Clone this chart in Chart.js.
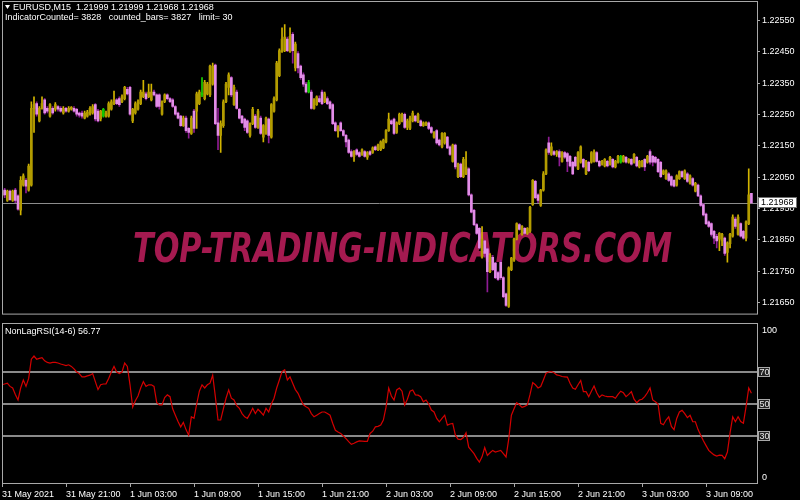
<!DOCTYPE html>
<html>
<head>
<meta charset="utf-8">
<script src="https://cdn.jsdelivr.net/npm/chart.js@4.4.1/dist/chart.umd.min.js"></script>
<style>
  html, body { margin: 0; padding: 0; background: #000; }
  #wrap { position: relative; width: 800px; height: 500px; background: #000; overflow: hidden; }
  canvas { position: absolute; left: 0; }
  #main { top: 0; }
  #rsi { top: 322px; }
</style>
</head>
<body>
<div id="wrap">
  <canvas id="main" width="800" height="322"></canvas>
  <canvas id="rsi" width="800" height="178"></canvas>
</div>
<script>
// EURUSD M15 candles, 31 May 15:00 .. 3 Jun 13:15
const opens = [
  1.21991, 1.22009, 1.21976, 1.22006, 1.21976, 1.22009, 1.21991, 1.21945, 1.22025, 1.22040,
  1.22009, 1.22025, 1.22270, 1.22285, 1.22230, 1.22270, 1.22297, 1.22270, 1.22245, 1.22270,
  1.22267, 1.22276, 1.22270, 1.22255, 1.22270, 1.22261, 1.22267, 1.22270, 1.22267, 1.22255,
  1.22255, 1.22239, 1.22245, 1.22251, 1.22255, 1.22282, 1.22261, 1.22236, 1.22245, 1.22245,
  1.22245, 1.22267, 1.22285, 1.22297, 1.22301, 1.22291, 1.22301, 1.22331, 1.22337, 1.22230,
  1.22255, 1.22267, 1.22285, 1.22307, 1.22316, 1.22307, 1.22297, 1.22322, 1.22313, 1.22313,
  1.22251, 1.22291, 1.22313, 1.22301, 1.22297, 1.22276, 1.22255, 1.22245, 1.22215, 1.22239,
  1.22206, 1.22190, 1.22261, 1.22261, 1.22285, 1.22313, 1.22301, 1.22316, 1.22313, 1.22347,
  1.22408, 1.22224, 1.22184, 1.22215, 1.22291, 1.22337, 1.22368, 1.22282, 1.22322, 1.22267,
  1.22245, 1.22236, 1.22230, 1.22184, 1.22221, 1.22245, 1.22209, 1.22239, 1.22178, 1.22190,
  1.22236, 1.22178, 1.22261, 1.22297, 1.22374, 1.22451, 1.22454, 1.22491, 1.22451, 1.22506,
  1.22399, 1.22445, 1.22405, 1.22377, 1.22347, 1.22322, 1.22322, 1.22270, 1.22282, 1.22301,
  1.22322, 1.22291, 1.22301, 1.22291, 1.22282, 1.22224, 1.22196, 1.22224, 1.22199, 1.22184,
  1.22169, 1.22132, 1.22117, 1.22138, 1.22129, 1.22123, 1.22132, 1.22114, 1.22132, 1.22129,
  1.22147, 1.22138, 1.22138, 1.22144, 1.22163, 1.22199, 1.22230, 1.22236, 1.22193, 1.22221,
  1.22230, 1.22251, 1.22209, 1.22206, 1.22230, 1.22245, 1.22227, 1.22230, 1.22215, 1.22218,
  1.22224, 1.22209, 1.22178, 1.22199, 1.22169, 1.22147, 1.22160, 1.22178, 1.22147, 1.22101,
  1.22153, 1.22052, 1.22092, 1.22052, 1.22061, 1.22077, 1.21994, 1.21945, 1.21899, 1.21887,
  1.21795, 1.21847, 1.21822, 1.21749, 1.21795, 1.21776, 1.21746, 1.21779, 1.21730, 1.21678,
  1.21638, 1.21755, 1.21786, 1.21853, 1.21899, 1.21868, 1.21887, 1.21871, 1.21878, 1.21963,
  1.22037, 1.21994, 1.21960, 1.22009, 1.22061, 1.22160, 1.22123, 1.22132, 1.22123, 1.22132,
  1.22101, 1.22129, 1.22126, 1.22117, 1.22098, 1.22114, 1.22077, 1.22098, 1.22107, 1.22061,
  1.22098, 1.22098, 1.22101, 1.22129, 1.22101, 1.22092, 1.22086, 1.22101, 1.22092, 1.22107,
  1.22083, 1.22098, 1.22098, 1.22101, 1.22114, 1.22098, 1.22107, 1.22098, 1.22114, 1.22083,
  1.22086, 1.22107, 1.22098, 1.22132, 1.22117, 1.22114, 1.22107, 1.22098, 1.22061, 1.22046,
  1.22061, 1.22052, 1.22040, 1.22025, 1.22046, 1.22068, 1.22046, 1.22061, 1.22031, 1.22046,
  1.22006, 1.22025, 1.21991, 1.21963, 1.21933, 1.21908, 1.21902, 1.21878, 1.21862, 1.21853,
  1.21847, 1.21856, 1.21810, 1.21838, 1.21862, 1.21917, 1.21868, 1.21902, 1.21878, 1.21856,
  1.21902, 1.21999
];
const highs = [
  1.22012, 1.22015, 1.22009, 1.22009, 1.22009, 1.22015, 1.21994, 1.22052, 1.22061, 1.22046,
  1.22092, 1.22291, 1.22307, 1.22291, 1.22276, 1.22307, 1.22301, 1.22276, 1.22285, 1.22276,
  1.22288, 1.22279, 1.22276, 1.22276, 1.22273, 1.22276, 1.22276, 1.22276, 1.22270, 1.22258,
  1.22261, 1.22261, 1.22264, 1.22276, 1.22282, 1.22285, 1.22267, 1.22264, 1.22270, 1.22261,
  1.22291, 1.22297, 1.22325, 1.22301, 1.22307, 1.22313, 1.22340, 1.22337, 1.22340, 1.22270,
  1.22291, 1.22297, 1.22328, 1.22359, 1.22322, 1.22347, 1.22347, 1.22328, 1.22316, 1.22316,
  1.22294, 1.22316, 1.22316, 1.22304, 1.22301, 1.22279, 1.22258, 1.22248, 1.22245, 1.22245,
  1.22209, 1.22245, 1.22267, 1.22322, 1.22328, 1.22368, 1.22359, 1.22353, 1.22408, 1.22414,
  1.22411, 1.22270, 1.22230, 1.22297, 1.22353, 1.22383, 1.22371, 1.22344, 1.22328, 1.22270,
  1.22248, 1.22239, 1.22233, 1.22224, 1.22273, 1.22251, 1.22267, 1.22245, 1.22218, 1.22242,
  1.22239, 1.22285, 1.22307, 1.22420, 1.22460, 1.22527, 1.22537, 1.22497, 1.22527, 1.22512,
  1.22481, 1.22451, 1.22408, 1.22383, 1.22353, 1.22359, 1.22328, 1.22301, 1.22310, 1.22310,
  1.22328, 1.22322, 1.22307, 1.22294, 1.22285, 1.22227, 1.22215, 1.22227, 1.22202, 1.22187,
  1.22172, 1.22138, 1.22135, 1.22141, 1.22132, 1.22141, 1.22135, 1.22132, 1.22135, 1.22147,
  1.22150, 1.22156, 1.22166, 1.22172, 1.22202, 1.22255, 1.22233, 1.22239, 1.22227, 1.22255,
  1.22255, 1.22255, 1.22236, 1.22245, 1.22261, 1.22248, 1.22255, 1.22233, 1.22227, 1.22227,
  1.22227, 1.22212, 1.22196, 1.22202, 1.22172, 1.22193, 1.22193, 1.22181, 1.22150, 1.22156,
  1.22156, 1.22095, 1.22095, 1.22114, 1.22132, 1.22080, 1.21997, 1.21948, 1.21902, 1.21890,
  1.21893, 1.21850, 1.21825, 1.21807, 1.21801, 1.21779, 1.21749, 1.21786, 1.21733, 1.21681,
  1.21764, 1.21795, 1.21856, 1.21905, 1.21902, 1.21896, 1.21890, 1.21890, 1.21957, 1.22043,
  1.22040, 1.21997, 1.22012, 1.22068, 1.22141, 1.22178, 1.22160, 1.22135, 1.22135, 1.22138,
  1.22132, 1.22132, 1.22129, 1.22120, 1.22101, 1.22117, 1.22132, 1.22150, 1.22110, 1.22104,
  1.22101, 1.22132, 1.22138, 1.22132, 1.22104, 1.22104, 1.22110, 1.22104, 1.22117, 1.22110,
  1.22104, 1.22120, 1.22120, 1.22120, 1.22117, 1.22110, 1.22110, 1.22126, 1.22117, 1.22104,
  1.22104, 1.22110, 1.22120, 1.22138, 1.22120, 1.22117, 1.22110, 1.22101, 1.22074, 1.22074,
  1.22065, 1.22055, 1.22043, 1.22058, 1.22071, 1.22071, 1.22074, 1.22065, 1.22058, 1.22049,
  1.22034, 1.22028, 1.21994, 1.21966, 1.21936, 1.21911, 1.21905, 1.21881, 1.21868, 1.21874,
  1.21871, 1.21859, 1.21844, 1.21871, 1.21930, 1.21923, 1.21930, 1.21905, 1.21881, 1.21911,
  1.22077, 1.21999
];
const lows = [
  1.21963, 1.21985, 1.21973, 1.21976, 1.21973, 1.21969, 1.21945, 1.21930, 1.22022, 1.22000,
  1.22006, 1.22022, 1.22193, 1.22245, 1.22227, 1.22267, 1.22251, 1.22255, 1.22242, 1.22251,
  1.22261, 1.22261, 1.22258, 1.22251, 1.22258, 1.22258, 1.22264, 1.22258, 1.22245, 1.22242,
  1.22239, 1.22236, 1.22242, 1.22248, 1.22251, 1.22230, 1.22227, 1.22230, 1.22242, 1.22242,
  1.22242, 1.22264, 1.22282, 1.22282, 1.22276, 1.22288, 1.22297, 1.22313, 1.22248, 1.22224,
  1.22251, 1.22264, 1.22282, 1.22304, 1.22297, 1.22304, 1.22294, 1.22310, 1.22273, 1.22267,
  1.22248, 1.22288, 1.22297, 1.22288, 1.22273, 1.22248, 1.22236, 1.22212, 1.22212, 1.22193,
  1.22175, 1.22187, 1.22193, 1.22206, 1.22282, 1.22307, 1.22297, 1.22313, 1.22307, 1.22344,
  1.22218, 1.22138, 1.22129, 1.22209, 1.22288, 1.22313, 1.22307, 1.22279, 1.22267, 1.22236,
  1.22221, 1.22199, 1.22190, 1.22178, 1.22218, 1.22206, 1.22206, 1.22187, 1.22163, 1.22187,
  1.22160, 1.22175, 1.22258, 1.22294, 1.22371, 1.22448, 1.22451, 1.22451, 1.22448, 1.22414,
  1.22389, 1.22383, 1.22362, 1.22340, 1.22319, 1.22319, 1.22267, 1.22267, 1.22279, 1.22288,
  1.22282, 1.22288, 1.22282, 1.22267, 1.22218, 1.22196, 1.22178, 1.22196, 1.22181, 1.22147,
  1.22126, 1.22114, 1.22101, 1.22120, 1.22114, 1.22120, 1.22114, 1.22107, 1.22120, 1.22126,
  1.22135, 1.22135, 1.22135, 1.22141, 1.22160, 1.22196, 1.22218, 1.22187, 1.22190, 1.22218,
  1.22227, 1.22206, 1.22202, 1.22202, 1.22227, 1.22227, 1.22224, 1.22212, 1.22212, 1.22215,
  1.22202, 1.22190, 1.22175, 1.22156, 1.22150, 1.22144, 1.22156, 1.22141, 1.22120, 1.22098,
  1.22077, 1.22049, 1.22049, 1.22049, 1.22058, 1.21991, 1.21936, 1.21896, 1.21868, 1.21822,
  1.21792, 1.21795, 1.21684, 1.21746, 1.21752, 1.21727, 1.21721, 1.21724, 1.21666, 1.21638,
  1.21635, 1.21752, 1.21782, 1.21850, 1.21881, 1.21865, 1.21868, 1.21868, 1.21874, 1.21960,
  1.21982, 1.21969, 1.21957, 1.22006, 1.22058, 1.22123, 1.22120, 1.22120, 1.22117, 1.22086,
  1.22098, 1.22110, 1.22068, 1.22083, 1.22058, 1.22083, 1.22074, 1.22095, 1.22080, 1.22058,
  1.22068, 1.22095, 1.22098, 1.22098, 1.22083, 1.22089, 1.22083, 1.22083, 1.22089, 1.22080,
  1.22080, 1.22095, 1.22095, 1.22098, 1.22095, 1.22095, 1.22089, 1.22095, 1.22083, 1.22080,
  1.22083, 1.22071, 1.22095, 1.22092, 1.22086, 1.22095, 1.22065, 1.22049, 1.22058, 1.22043,
  1.22037, 1.22022, 1.22019, 1.22022, 1.22043, 1.22049, 1.22043, 1.22034, 1.22028, 1.22022,
  1.22003, 1.21988, 1.21957, 1.21927, 1.21899, 1.21890, 1.21862, 1.21838, 1.21825, 1.21816,
  1.21832, 1.21801, 1.21779, 1.21825, 1.21859, 1.21887, 1.21865, 1.21859, 1.21853, 1.21847,
  1.21899, 1.21968
];
const closes = [
  1.22006, 1.21994, 1.22006, 1.21979, 1.22006, 1.21976, 1.21948, 1.22040, 1.22055, 1.22022,
  1.22086, 1.22270, 1.22282, 1.22251, 1.22270, 1.22285, 1.22255, 1.22261, 1.22282, 1.22255,
  1.22282, 1.22267, 1.22261, 1.22270, 1.22261, 1.22270, 1.22273, 1.22261, 1.22251, 1.22248,
  1.22245, 1.22255, 1.22258, 1.22270, 1.22276, 1.22236, 1.22230, 1.22261, 1.22267, 1.22255,
  1.22285, 1.22291, 1.22297, 1.22285, 1.22282, 1.22307, 1.22337, 1.22316, 1.22251, 1.22267,
  1.22285, 1.22291, 1.22322, 1.22322, 1.22301, 1.22322, 1.22322, 1.22313, 1.22276, 1.22276,
  1.22291, 1.22313, 1.22301, 1.22291, 1.22276, 1.22251, 1.22239, 1.22215, 1.22239, 1.22199,
  1.22193, 1.22239, 1.22206, 1.22316, 1.22322, 1.22319, 1.22353, 1.22347, 1.22405, 1.22405,
  1.22221, 1.22184, 1.22221, 1.22291, 1.22347, 1.22377, 1.22313, 1.22337, 1.22270, 1.22239,
  1.22224, 1.22209, 1.22193, 1.22221, 1.22267, 1.22209, 1.22261, 1.22190, 1.22215, 1.22239,
  1.22184, 1.22282, 1.22301, 1.22414, 1.22454, 1.22491, 1.22497, 1.22454, 1.22500, 1.22454,
  1.22475, 1.22399, 1.22368, 1.22347, 1.22322, 1.22353, 1.22270, 1.22297, 1.22307, 1.22291,
  1.22285, 1.22316, 1.22285, 1.22270, 1.22221, 1.22199, 1.22209, 1.22199, 1.22184, 1.22163,
  1.22129, 1.22117, 1.22132, 1.22123, 1.22117, 1.22138, 1.22117, 1.22129, 1.22123, 1.22144,
  1.22138, 1.22153, 1.22163, 1.22169, 1.22199, 1.22236, 1.22221, 1.22190, 1.22224, 1.22251,
  1.22251, 1.22209, 1.22230, 1.22239, 1.22255, 1.22230, 1.22251, 1.22215, 1.22224, 1.22224,
  1.22206, 1.22193, 1.22193, 1.22160, 1.22153, 1.22190, 1.22190, 1.22144, 1.22123, 1.22153,
  1.22083, 1.22092, 1.22052, 1.22107, 1.22083, 1.21994, 1.21939, 1.21899, 1.21871, 1.21825,
  1.21853, 1.21807, 1.21749, 1.21801, 1.21755, 1.21730, 1.21724, 1.21730, 1.21669, 1.21641,
  1.21761, 1.21792, 1.21853, 1.21902, 1.21884, 1.21893, 1.21871, 1.21887, 1.21954, 1.22040,
  1.21985, 1.21976, 1.22009, 1.22061, 1.22138, 1.22129, 1.22147, 1.22123, 1.22132, 1.22114,
  1.22129, 1.22114, 1.22101, 1.22086, 1.22061, 1.22086, 1.22129, 1.22147, 1.22083, 1.22101,
  1.22071, 1.22129, 1.22132, 1.22101, 1.22086, 1.22101, 1.22107, 1.22086, 1.22114, 1.22083,
  1.22101, 1.22117, 1.22117, 1.22117, 1.22098, 1.22107, 1.22092, 1.22123, 1.22086, 1.22101,
  1.22101, 1.22083, 1.22117, 1.22098, 1.22098, 1.22098, 1.22068, 1.22052, 1.22071, 1.22071,
  1.22040, 1.22025, 1.22022, 1.22055, 1.22068, 1.22052, 1.22071, 1.22037, 1.22055, 1.22025,
  1.22031, 1.21991, 1.21960, 1.21930, 1.21902, 1.21893, 1.21868, 1.21856, 1.21847, 1.21871,
  1.21868, 1.21807, 1.21841, 1.21868, 1.21923, 1.21893, 1.21923, 1.21862, 1.21856, 1.21908,
  1.21994, 1.21968
];
// bars that the terminal painted green
const greenBars = [38, 75, 115, 232];

// NonLagRSI(14-6), one value per bar
const rsiValues = [
  62, 62.5, 63, 61, 60, 56, 52.5, 60, 65, 61,
  66, 78, 80, 78, 78.5, 79, 77, 76, 75.6, 76,
  76, 75.6, 75, 74.5, 74, 74.5, 73.5, 72, 70, 69,
  67, 67, 67.6, 68, 69, 64, 59, 62, 62.5, 62.6,
  66, 70, 73.5, 70, 69, 70, 75.6, 73.5, 62, 48,
  52, 55, 60, 64, 61, 62, 62, 61, 51, 49.4,
  49.4, 54, 55.7, 54.6, 47, 43, 39, 35.7, 38.5, 34,
  30.5, 42, 41, 50, 58, 62, 60, 62, 63, 68,
  54.6, 40, 40, 47, 53.6, 58.8, 53.6, 52.5, 49, 47.3,
  44, 42, 41, 44, 47.3, 44, 46.7, 45, 43, 47.3,
  45, 50, 53.6, 60, 65, 70.3, 71.4, 65, 67, 63,
  59, 56.7, 53, 49.5, 48.3, 47.3, 44, 42, 43, 44,
  45, 45, 44, 43, 38, 33.6, 32.5, 31.6, 30, 28.4,
  26.5, 24.8, 25.5, 26.3, 26.9, 26.8, 26.7, 26.7, 31.6, 33,
  35.7, 36, 36.8, 40, 48, 60, 55, 52.5, 58.8, 60,
  58, 49.4, 53, 58, 58.8, 55.7, 55.5, 54.6, 51.4, 52.5,
  50, 46.2, 45, 41, 38.9, 41, 43, 36.8, 37.5, 37.9,
  30.5, 28, 27.8, 29, 32, 23, 21, 19, 16, 13.7,
  17, 22.8, 17.9, 19.5, 21, 20, 20.5, 21, 19, 16.9,
  28, 43, 47, 50.8, 49.5, 47.9, 48.5, 49.4, 56, 63.4,
  62, 60, 60.9, 65, 69.3, 70, 70.3, 69.5, 68.2, 67.8,
  67.2, 67, 66.8, 63, 60, 59.2, 62, 64.7, 57.7, 57.7,
  54.6, 58, 61.3, 57, 54.2, 55.7, 55, 54.6, 54.6, 54.6,
  53.6, 56, 58, 57, 54.6, 56, 57.7, 53, 50.8, 52.5,
  53, 54.6, 57, 60, 52.5, 51.4, 50, 37.9, 37, 40,
  42, 36, 34, 41, 45, 46, 44, 41.5, 43, 39,
  38.9, 34, 30.5, 27, 24, 21, 19.5, 18.2, 17.5, 18,
  17.9, 15.8, 20, 32, 42, 38.9, 42, 39, 38, 48.3,
  60, 56.77
];
const rsiLevels = [30, 50, 70];
const rsiAxisLabels = [0, 100];

const priceTicks = [1.21650, 1.21750, 1.21850, 1.21950, 1.22050, 1.22150, 1.22250, 1.22350, 1.22450, 1.22550];
const timeTickBars = [0, 24, 48, 72, 96, 120, 144, 168, 192, 216, 240, 264];
const timeTickLabels = ['31 May 2021', '31 May 21:00', '1 Jun 03:00', '1 Jun 09:00', '1 Jun 15:00', '1 Jun 21:00',
  '2 Jun 03:00', '2 Jun 09:00', '2 Jun 15:00', '2 Jun 21:00', '3 Jun 03:00', '3 Jun 09:00'];

const FONT = "'Liberation Sans', sans-serif";
const FSIZE = 9;
const FRAME = '#a8a8a8';
const last = closes.length - 1;
const barIdx = closes.map((_, i) => i);

const isBull = i => closes[i] >= opens[i];
const bodyColors = barIdx.map(i => greenBars.includes(i) ? '#14c800' : isBull(i) ? '#b39c00' : '#e38de8');
const wickColors = barIdx.map(i => greenBars.includes(i) ? '#1ad400' : isBull(i) ? '#d2b400' : '#8e1c94');

const mainDecor = {
  id: 'mainDecor',
  beforeDatasetsDraw(chart) {
    const { ctx, chartArea: a, scales: { y } } = chart;
    // watermark
    ctx.save();
    const wm = 'TOP-TRADING-INDICATORS.COM';
    ctx.font = "bold italic 41px 'DejaVu Sans'";
    const w = ctx.measureText(wm).width;
    ctx.translate(133, 262);
    ctx.scale(539 / w, 1);
    ctx.fillStyle = '#a51a50';
    ctx.textBaseline = 'alphabetic';
    ctx.fillText(wm, 0, 0);
    ctx.restore();
    // bid line
    const py = Math.round(y.getPixelForValue(closes[last])) + 0.5;
    ctx.save();
    ctx.strokeStyle = '#8c8c8c';
    ctx.lineWidth = 1;
    ctx.beginPath();
    ctx.moveTo(a.left, py);
    ctx.lineTo(a.right, py);
    ctx.stroke();
    ctx.restore();
  },
  afterDraw(chart) {
    const { ctx, chartArea: a, scales: { y } } = chart;
    ctx.save();
    ctx.strokeStyle = FRAME;
    ctx.lineWidth = 1;
    ctx.strokeRect(a.left + 0.5, 1.5, a.right - a.left, a.bottom - 2);
    // bid label
    const py = Math.round(y.getPixelForValue(closes[last]));
    ctx.fillStyle = '#ffffff';
    ctx.fillRect(758, py - 5, 38, 10);
    ctx.strokeStyle = '#707070';
    ctx.strokeRect(758.5, py - 5.5, 38, 10);
    ctx.fillStyle = '#000000';
    ctx.font = FSIZE + 'px ' + FONT;
    ctx.textBaseline = 'middle';
    ctx.fillText(closes[last].toFixed(5), 761, py);
    // header
    ctx.fillStyle = '#ffffff';
    ctx.beginPath();
    ctx.moveTo(5, 5); ctx.lineTo(10, 5); ctx.lineTo(7.5, 9); ctx.closePath();
    ctx.fill();
    ctx.fillText('EURUSD,M15  ' + [opens[last], highs[last], lows[last], closes[last]].map(v => v.toFixed(5)).join(' '), 13, 7.5);
    ctx.fillText('IndicatorCounted= 3828   counted_bars= 3827   limit= 30', 5, 17.5);
    ctx.restore();
  }
};

new Chart(document.getElementById('main'), {
  type: 'bar',
  data: {
    datasets: [
      {
        label: 'body',
        data: barIdx.map(i => ({ x: i, y: [opens[i], closes[i]] })),
        backgroundColor: bodyColors,
        barThickness: 2,
        minBarLength: 1,
        grouped: false,
        borderWidth: 0
      },
      {
        label: 'wick',
        data: barIdx.map(i => ({ x: i, y: [lows[i], highs[i]] })),
        backgroundColor: wickColors,
        barThickness: 1,
        grouped: false,
        borderWidth: 0
      }
    ]
  },
  options: {
    responsive: false,
    animation: false,
    events: [],
    layout: { padding: { left: 2, top: 2, right: 0, bottom: 1 } },
    plugins: { legend: { display: false }, tooltip: { enabled: false } },
    scales: {
      x: { type: 'linear', display: false, min: 0, max: 283.1, offset: false, grid: { offset: false } },
      y: {
        position: 'right',
        min: 1.21612,
        max: 1.22592,
        beginAtZero: false,
        afterFit: s => { s.width = 43; },
        afterBuildTicks: s => { s.ticks = priceTicks.map(v => ({ value: v })); },
        ticks: {
          color: '#ffffff',
          font: { family: FONT, size: FSIZE },
          padding: 2,
          callback: v => Number(v).toFixed(5)
        },
        grid: { drawOnChartArea: false, tickLength: 3, color: FRAME },
        border: { display: false }
      }
    }
  },
  plugins: [mainDecor]
});

const rsiDecor = {
  id: 'rsiDecor',
  beforeDatasetsDraw(chart) {
    const { ctx, chartArea: a, scales: { y } } = chart;
    ctx.save();
    ctx.strokeStyle = '#8a8a8a';
    ctx.lineWidth = 2;
    rsiLevels.forEach(v => {
      const py = Math.round(y.getPixelForValue(v));
      ctx.beginPath();
      ctx.moveTo(a.left, py);
      ctx.lineTo(a.right, py);
      ctx.stroke();
    });
    ctx.restore();
  },
  afterDraw(chart) {
    const { ctx, chartArea: a, scales: { y } } = chart;
    ctx.save();
    ctx.strokeStyle = FRAME;
    ctx.lineWidth = 1;
    ctx.strokeRect(a.left + 0.5, 1.5, a.right - a.left, a.bottom - 2);
    ctx.font = FSIZE + 'px ' + FONT;
    ctx.textBaseline = 'middle';
    // level labels
    rsiLevels.forEach(v => {
      const py = Math.round(y.getPixelForValue(v));
      ctx.fillStyle = '#222222';
      ctx.fillRect(758, py - 5, 12, 10);
      ctx.strokeStyle = '#a8a8a8';
      ctx.strokeRect(758.5, py - 4.5, 11, 9);
      ctx.fillStyle = '#e8e8e8';
      ctx.fillText(String(v), 759.5, py + 0.5);
    });
    // 0 / 100 kept inside the panel
    ctx.fillStyle = '#ffffff';
    rsiAxisLabels.forEach(v => {
      const py = y.getPixelForValue(v) + (v === 100 ? 6.5 : -6);
      ctx.fillText(String(v), 762, py);
    });
    ctx.fillText('NonLagRSI(14-6) ' + rsiValues[rsiValues.length - 1].toFixed(2), 5, 9.5);
    ctx.restore();
  }
};

new Chart(document.getElementById('rsi'), {
  type: 'line',
  data: {
    datasets: [{
      label: 'NonLagRSI',
      data: rsiValues.map((v, i) => ({ x: i, y: v })),
      borderColor: '#d40000',
      borderWidth: 1.2,
      pointRadius: 0,
      tension: 0
    }]
  },
  options: {
    responsive: false,
    animation: false,
    events: [],
    layout: { padding: { left: 2, top: 2, right: 0, bottom: 0 } },
    plugins: { legend: { display: false }, tooltip: { enabled: false } },
    scales: {
      x: {
        type: 'linear',
        min: 0,
        max: 283.1,
        afterFit: s => { s.height = 16; },
        afterBuildTicks: s => { s.ticks = timeTickBars.map(v => ({ value: v })); },
        ticks: {
          color: '#ffffff',
          font: { family: FONT, size: FSIZE },
          padding: 2,
          align: 'start',
          maxRotation: 0,
          autoSkip: false,
          callback: v => timeTickLabels[timeTickBars.indexOf(v)] || ''
        },
        grid: { drawOnChartArea: false, tickLength: 3, color: FRAME },
        border: { display: false }
      },
      y: {
        position: 'right',
        min: 0,
        max: 100,
        afterFit: s => { s.width = 43; },
        ticks: { display: false },
        grid: { display: false },
        border: { display: false }
      }
    }
  },
  plugins: [rsiDecor]
});
</script>
</body>
</html>
